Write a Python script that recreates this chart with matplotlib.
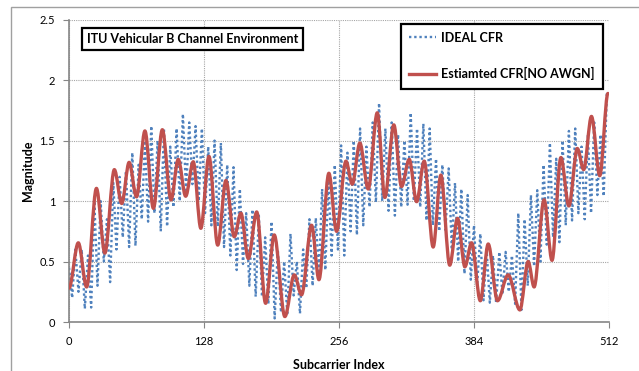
import numpy as np
import matplotlib
matplotlib.use('Agg')
import matplotlib.pyplot as plt
from matplotlib.path import Path
from matplotlib.patches import PathPatch, Rectangle
from matplotlib.lines import Line2D

plt.rcParams['font.family'] = ['Lato', 'DejaVu Sans']

# red curve: peaks / troughs (subcarrier, magnitude)
est_x = [0, 8.8, 16.7, 26, 34, 43, 50, 57, 64, 72,
         80, 88.5, 96.7, 103.6, 110.6, 117.8, 125, 132.7, 141, 148.8,
         156.7, 163, 170, 178, 186.4, 194.6, 204.7, 213.6, 220.5, 230,
         237, 246.4, 253.7, 262.6, 268.6, 275.8, 283.7, 292.3, 299.5, 308,
         315.3, 322.6, 329.6, 336.8, 345.3, 352.6, 361, 368.4, 375.4, 381.7,
         390, 397.5, 406.3, 416.4, 427.5, 435.4, 441, 450.5, 458, 466.4,
         474, 482, 488, 495.4, 503.3, 511]
est_y = [0.28, 0.655, 0.29, 1.105, 0.57, 1.26, 0.98, 1.32, 1.035, 1.58,
         0.94, 1.59, 1.01, 1.345, 1.04, 1.325, 0.775, 1.37, 0.636, 1.17,
         0.705, 0.90, 0.525, 0.91, 0.155, 0.72, 0.045, 0.39, 0.225, 0.80,
         0.35, 1.23, 0.75, 1.33, 1.14, 1.48, 1.10, 1.73, 1.03, 1.63,
         1.12, 1.345, 0.995, 1.33, 0.62, 1.215, 0.47, 0.857, 0.457, 0.655,
         0.176, 0.645, 0.176, 0.39, 0.10, 0.50, 0.29, 1.01, 0.51, 1.36,
         0.96, 1.435, 1.26, 1.70, 1.21, 1.89]

# ideal CFR: column tops (x = 0, 6, 12 ...) and bottoms (x = 3, 9, 15 ...)
ideal_top = [0.45, 0.6, 0.6, 0.55, 1.0, 1.0, 0.85, 1.15, 1.2, 1.25,
             1.4, 1.3, 1.5, 1.62, 1.5, 1.6, 1.45, 1.6, 1.72, 1.65,
             1.62, 1.6, 1.45, 1.5, 1.48, 1.3, 1.28, 1.1, 0.9, 0.93,
             0.88, 0.7, 0.83, 0.6, 0.5, 0.73, 0.5, 0.6, 0.85, 0.86,
             1.1, 1.17, 1.3, 1.46, 1.4, 1.5, 1.6, 1.45, 1.65, 1.81,
             1.6, 1.65, 1.55, 1.5, 1.73, 1.6, 1.64, 1.6, 1.35, 1.3,
             1.27, 1.15, 1.1, 1.05, 0.8, 0.73, 0.6, 0.55, 0.58, 0.58,
             0.55, 0.9, 0.85, 1.05, 1.09, 1.3, 1.48, 1.35, 1.5, 1.58,
             1.6, 1.45, 1.55, 1.65, 1.55, 1.9]
ideal_bot = [0.2, 0.25, 0.11, 0.12, 0.3, 0.5, 0.33, 0.6, 0.7, 0.62,
             0.63, 0.85, 0.83, 0.9, 0.75, 0.79, 0.95, 1.0, 1.07, 1.14,
             1.0, 0.9, 0.8, 0.79, 0.62, 0.55, 0.43, 0.48, 0.3, 0.21,
             0.21, 0.15, 0.03, 0.08, 0.06, 0.22, 0.07, 0.28, 0.3, 0.4,
             0.43, 0.55, 0.6, 0.55, 0.75, 0.72, 0.8, 0.95, 0.99, 1.0,
             0.92, 0.88, 0.95, 0.97, 1.0, 0.95, 0.84, 0.8, 0.75, 0.76,
             0.6, 0.5, 0.4, 0.35, 0.3, 0.18, 0.16, 0.155, 0.23, 0.25,
             0.15, 0.1, 0.3, 0.46, 0.5, 0.64, 0.7, 0.66, 0.8, 0.84,
             0.9, 0.85, 0.9, 1.05, 1.04]

xticks = [0, 128, 256, 384, 512]
yticks = [0, 0.5, 1, 1.5, 2, 2.5]
ytick_labels = ['0', '0.5', '1', '1.5', '2', '2.5']

blue = '#4F81BD'
red = '#C0504D'

# merge tops and bottoms into one zig-zag series
ideal_x = []
ideal_y = []
for i in range(len(ideal_top)):
    ideal_x.append(6 * i)
    ideal_y.append(ideal_top[i])
    if i < len(ideal_bot):
        ideal_x.append(6 * i + 3)
        ideal_y.append(ideal_bot[i])

fig = plt.figure(figsize=(6.39, 3.71), dpi=100)
ax = fig.add_axes([0.108, 0.132, 0.845, 0.815])

ax.plot(ideal_x, ideal_y, linestyle=(0, (1, 1.2)), color=blue, lw=1.7, zorder=2)

# smoothed line through the peaks, like excel's smoothed line
verts = [(est_x[0], est_y[0])]
codes = [Path.MOVETO]
for i in range(len(est_x) - 1):
    d = (est_x[i + 1] - est_x[i]) / 3.0
    verts += [(est_x[i] + d, est_y[i]), (est_x[i + 1] - d, est_y[i + 1]),
              (est_x[i + 1], est_y[i + 1])]
    codes += [Path.CURVE4] * 3
ax.add_patch(PathPatch(Path(verts, codes), fill=False, edgecolor=red,
                       lw=2.4, zorder=3, capstyle='round', joinstyle='round'))

ax.set_xlim(0, 512)
ax.set_ylim(0, 2.5)
ax.set_xticks(xticks)
ax.set_yticks(yticks)
ax.set_yticklabels(ytick_labels)
ax.grid(True, linestyle=(0, (1, 1)), color='#A6A6A6', lw=0.8)
ax.set_axisbelow(True)
for s in ['top', 'right']:
    ax.spines[s].set_visible(False)
for s in ['left', 'bottom']:
    ax.spines[s].set_color('#868686')
    ax.spines[s].set_linewidth(1.2)
ax.tick_params(direction='out', length=4, color='#868686', labelsize=8,
               labelcolor='black', pad=6)
ax.set_xlabel('Subcarrier Index', fontsize=9, fontweight='bold', labelpad=9)
ax.set_ylabel('Magnitude', fontsize=9, fontweight='bold', labelpad=4)

ax.text(0.033, 0.935, 'ITU Vehicular B Channel Environment', transform=ax.transAxes,
        ha='left', va='center', fontsize=9, fontweight='bold', zorder=5,
        bbox=dict(boxstyle='square,pad=0.4', fc='white', ec='black', lw=1.6))

handles = [Line2D([], [], linestyle=(0, (1, 1.2)), color=blue, lw=1.7),
           Line2D([], [], color=red, lw=2.4)]
leg = ax.legend(handles, ['IDEAL CFR', 'Estiamted CFR[NO AWGN]'],
                loc='upper right', bbox_to_anchor=(0.989, 0.987),
                fancybox=False, framealpha=1, edgecolor='black',
                prop={'weight': 'bold', 'size': 9}, labelspacing=1.9,
                handlelength=2.2, borderpad=0.65, handletextpad=0.4,
                borderaxespad=0)
leg.get_frame().set_linewidth(1.6)
leg.set_zorder(6)

# chart area border
fig.patches.append(Rectangle((11 / 639, -0.1), 1.2, 1 - 7 / 371 + 0.1,
                             transform=fig.transFigure, fill=False,
                             ec='#A0A0A0', lw=1))

fig.savefig('out.png', dpi=100)
